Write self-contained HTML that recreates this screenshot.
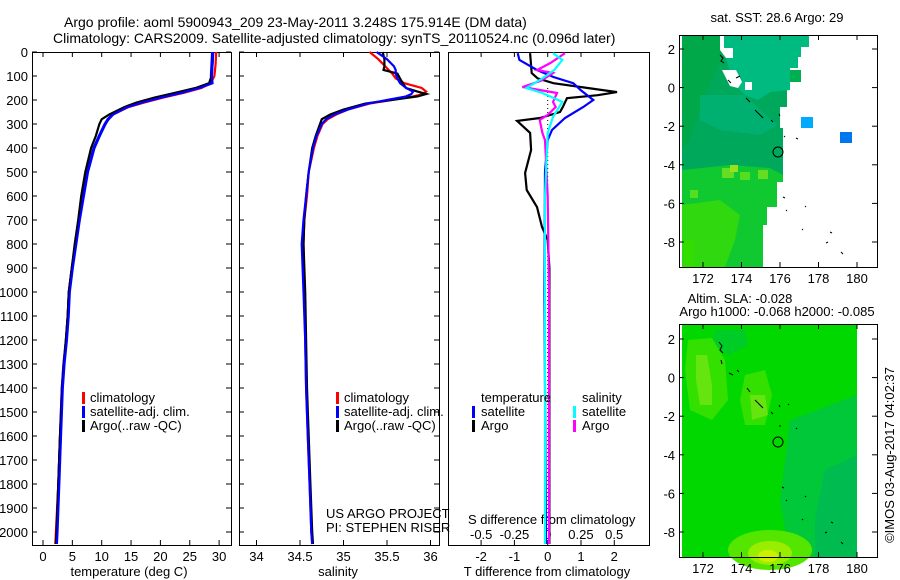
<!DOCTYPE html>
<html><head><meta charset="utf-8"><style>
html,body{margin:0;padding:0;background:#fff;}
svg{display:block;font-family:"Liberation Sans",sans-serif;}
</style></head><body>
<svg id="fig" width="900" height="580" viewBox="0 0 900 580">
<g font-size="14" fill="#000">
<text x="64" y="27">Argo profile: aoml 5900943_209 23-May-2011 3.248S 175.914E (DM data)</text>
<text x="53" y="43">Climatology: CARS2009. Satellite-adjusted climatology: synTS_20110524.nc (0.096d later)</text>
</g>
<g id="p1"></g>
<g id="p2"></g>
<g id="p3"></g>

<!-- legends -->
<g font-size="13">
<rect x="82" y="392" width="3" height="12" fill="#f00"/><text x="90" y="402">climatology</text>
<rect x="82" y="406" width="3" height="12" fill="#00f"/><text x="90" y="416">satellite-adj. clim.</text>
<rect x="82" y="420" width="3" height="12" fill="#000"/><text x="90" y="430">Argo(..raw -QC)</text>
</g>
<g font-size="13">
<rect x="336" y="392" width="3" height="12" fill="#f00"/><text x="344" y="402">climatology</text>
<rect x="336" y="406" width="3" height="12" fill="#00f"/><text x="344" y="416">satellite-adj. clim.</text>
<rect x="336" y="420" width="3" height="12" fill="#000"/><text x="344" y="430">Argo(..raw -QC)</text>
</g>
<g font-size="13">
<text x="481" y="402">temperature</text><text x="582" y="402">salinity</text>
<rect x="472" y="406" width="3" height="12" fill="#00f"/><text x="481" y="416">satellite</text>
<rect x="472" y="420" width="3" height="12" fill="#000"/><text x="481" y="430">Argo</text>
<rect x="573" y="406" width="3" height="12" fill="#0ff"/><text x="582" y="416">satellite</text>
<rect x="573" y="420" width="3" height="12" fill="#f0f"/><text x="582" y="430">Argo</text>
</g>
<g font-size="13">
<text x="326" y="518">US ARGO PROJECT</text><text x="326" y="532">PI: STEPHEN RISER</text>
</g>

<!-- Map 1 SST -->
<g>
<text x="777" y="22" font-size="13" text-anchor="middle">sat. SST: 28.6 Argo: 29</text>
<polygon fill="#00a85c" points="682,35 809,35 809,47 801,47 801,57 798,57 798,68 790,68 790,90 787,90 787,107 780,107 780,128 783,128 783,182 777,182 777,207 767,207 767,225 763,225 763,267 682,267"/>
<polygon fill="#00a84a" points="682,35 722,35 722,60 712,80 700,110 690,140 682,150"/>
<polygon fill="#00bb80" points="724,35 809,35 809,47 801,47 801,57 798,57 798,68 790,68 790,90 770,92 758,100 745,95 735,85 728,65 724,50"/>
<polygon fill="#00b070" points="700,95 745,95 760,110 778,125 760,135 720,130 700,120"/>
<polygon fill="#10c830" points="682,170 730,165 770,168 783,175 783,182 777,182 777,207 767,207 767,225 763,225 763,267 682,267"/>
<polygon fill="#30d810" points="682,205 720,200 740,215 735,240 725,267 682,267"/>
<rect x="722" y="168" width="12" height="10" fill="#66dd22"/><rect x="730" y="165" width="8" height="7" fill="#99e020"/>
<rect x="740" y="172" width="10" height="8" fill="#55dd22"/><rect x="758" y="170" width="10" height="9" fill="#66dd22"/>
<rect x="690" y="190" width="8" height="8" fill="#55dd22"/><rect x="684" y="240" width="10" height="27" fill="#33dd00"/>
<polygon fill="#fff" points="720,35 724,35 724,48 733,48 733,58 726,58 720,50"/>
<polygon fill="#fff" points="722,70 736,70 742,82 738,88 730,86"/>
<polygon fill="#fff" points="745,82 752,82 752,90 745,90"/>
<rect x="790" y="70" width="11" height="12" fill="#00b050"/>
<rect x="801" y="117" width="12" height="11" fill="#00aaff"/>
<rect x="840" y="132" width="12" height="11" fill="#0077ee"/>
<g stroke="#000" stroke-width="1" fill="none">
<path d="M720,55 l3,3 l-2,3 l3,2"/><path d="M728,80 l3,3"/><path d="M736,78 l4,-2"/><path d="M746,98 l4,4"/><path d="M755,110 l8,8"/><path d="M771,120 l2,2"/><path d="M779,114 l1,2"/><path d="M784,136 l1,1"/><path d="M796,138 l2,1"/><path d="M783,197 l2,1"/><path d="M786,210 l1,1"/><path d="M805,206 l1,1"/><path d="M802,229 l1,1"/><path d="M830,232 l2,1"/><path d="M826,243 l2,-1"/><path d="M841,252 l2,2"/>
</g>
<circle cx="778" cy="152" r="5" fill="none" stroke="#000" stroke-width="1"/>
<rect x="679.5" y="35.5" width="198" height="232" fill="none" stroke="#000" stroke-width="1"/>
<g id="m1ticks"></g>
</g>

<!-- Map 2 SLA -->
<g>
<text x="740" y="303" font-size="13" text-anchor="middle">Altim. SLA: -0.028</text>
<text x="777" y="316" font-size="13" text-anchor="middle">Argo h1000: -0.068 h2000: -0.085</text>
<rect x="682" y="324" width="175" height="233" fill="#00d800"/>
<polygon fill="#00c838" points="790,420 857,395 857,557 790,557 780,500"/>
<polygon fill="#00bb50" points="825,470 857,455 857,557 815,557 815,520"/>
<polygon fill="#00cc28" points="715,330 745,330 748,345 730,355 712,345"/>
<polygon fill="#33e000" points="688,340 712,338 725,360 728,400 712,420 690,410 685,370"/>
<polygon fill="#66e410" points="696,355 707,355 712,385 712,405 700,405 696,380"/>
<polygon fill="#33e000" points="745,375 765,370 772,395 765,425 745,425 740,400"/>
<polygon fill="#66e410" points="750,395 765,395 768,415 752,420"/>
<ellipse cx="770" cy="550" rx="42" ry="20" fill="#55e600"/>
<ellipse cx="770" cy="553" rx="22" ry="12" fill="#99ee00"/>
<ellipse cx="768" cy="556" rx="10" ry="6" fill="#ccf000"/>
<g stroke="#000" stroke-width="1" fill="none">
<path d="M719,342 l3,4 l-2,4 l3,3"/><path d="M721,360 l1,4"/><path d="M729,373 l4,2"/><path d="M737,370 l2,2"/><path d="M747,388 l3,4"/><path d="M755,400 l8,8"/><path d="M771,412 l2,2"/><path d="M779,405 l1,2"/><path d="M788,404 l1,1"/><path d="M779,426 l2,0"/><path d="M796,428 l1,1"/><path d="M782,487 l2,1"/><path d="M786,500 l1,1"/><path d="M805,496 l1,1"/><path d="M802,519 l1,1"/><path d="M831,522 l2,1"/><path d="M825,533 l2,-1"/><path d="M841,542 l2,2"/>
</g>
<circle cx="778" cy="442" r="5" fill="none" stroke="#000" stroke-width="1"/>
<rect x="679.5" y="324.5" width="198" height="233" fill="none" stroke="#000" stroke-width="1"/>
<g id="m2ticks"></g>
</g>
<text transform="translate(894,455) rotate(-90)" font-size="13" text-anchor="middle">©IMOS 03-Aug-2017 04:02:37</text>
</svg>
<script>
// ---- data ----
const depthTicks = [0,100,200,300,400,500,600,700,800,900,1000,1100,1200,1300,1400,1500,1600,1700,1800,1900,2000];
const tempTicks = [0,5,10,15,20,25,30];
const salTicks = [34,34.5,35,35.5,36];
const tdiffTicks = [-2,-1,0,1,2];
const sdiffTicks = [-0.5,-0.25,0,0.25,0.5];
const sdiffLabels = ["-0.5","-0.25","0","0.25","0.5"];

const tDepth = [0,50,100,130,150,170,190,210,230,260,280,300,350,400,500,600,700,800,900,1000,1100,1200,1300,1400,1600,1800,2000,2050];
const tClim  = [29.5,29.4,29.2,28.6,27.0,24.0,20.5,17.3,14.5,12.0,11.2,10.6,9.6,8.7,7.6,6.7,6.1,5.5,4.9,4.4,4.2,3.9,3.5,3.2,2.9,2.6,2.2,2.1];
const tSat   = [28.8,28.7,28.6,28.7,26.5,23.5,20.0,16.8,14.2,11.8,11.0,10.5,9.5,8.6,7.5,6.8,6.1,5.5,4.9,4.4,4.2,3.9,3.5,3.2,2.9,2.6,2.3,2.2];
const tArgo  = [29.0,28.9,28.7,28.3,26.0,22.5,19.0,16.0,13.8,11.3,10.0,9.6,9.0,8.2,7.2,6.5,6.0,5.4,4.9,4.4,4.2,3.9,3.6,3.3,2.9,2.6,2.3,2.2];

const sDepth = [0,30,60,75,90,110,130,150,165,175,185,200,215,240,260,280,300,350,400,500,600,700,800,1000,1200,1400,1600,1800,2000,2050];
const sClim = [35.3,35.4,35.48,35.52,35.56,35.6,35.7,35.9,35.95,35.92,35.8,35.55,35.3,35.05,34.92,34.82,34.76,34.7,34.66,34.6,34.58,34.55,34.54,34.55,34.56,34.57,34.59,34.61,34.63,34.64];
const sSat  = [35.38,35.5,35.58,35.6,35.6,35.62,35.65,35.72,35.8,35.78,35.72,35.5,35.28,35.05,34.9,34.8,34.75,34.69,34.65,34.6,34.57,34.54,34.52,34.54,34.56,34.57,34.59,34.61,34.63,34.64];
const sArgo = [35.45,35.47,35.47,35.46,35.62,35.65,35.68,35.72,35.85,35.95,35.85,35.55,35.25,35.0,34.85,34.75,34.73,34.68,34.64,34.6,34.57,34.55,34.54,34.56,34.57,34.58,34.6,34.62,34.64,34.65];

const dtArgoDepth = [5,88,110,130,150,167,180,192,230,250,275,287,337,408,504,575,646,729,783,900,1200,1600,2050];
const dtArgo = [-0.53,-0.48,-0.3,0.17,1.2,2.08,1.5,0.58,0.45,0.37,-0.23,-0.92,-0.53,-0.5,-0.68,-0.63,-0.32,-0.17,0,0.05,0.05,0.05,0.05];
const dtSatDepth = [5,33,75,104,130,160,200,229,275,325,367,500,1000,2050];
const dtSat = [-0.9,-0.85,-0.32,0.17,0.77,1.0,1.37,1.07,0.52,0.13,0,-0.08,-0.1,-0.05];
const dsArgoDepth = [5,46,75,88,120,146,171,208,229,262,283,337,367,600,1000,2050];
const dsArgo = [0.13,0.02,-0.08,0.04,-0.05,-0.19,0.07,0.04,0.06,0,-0.06,-0.04,-0.02,0,0.01,0.01];
const dsSatDepth = [5,33,75,117,150,171,208,271,337,600,1000,2050];
const dsSat = [0.04,0.11,0.05,-0.06,-0.16,-0.04,0.11,0.04,0,-0.02,-0.02,-0.02];

const latTicks = [2,0,-2,-4,-6,-8];
const lonTicks = [172,174,176,178,180];

// ---- scales ----
const NS = "http://www.w3.org/2000/svg";
const TOP = 52, BOT = 545;
const yD = d => TOP + d * 0.24;
const xT = v => 43 + v * 5.87;
const xS = v => 300 + (v - 34.5) * 87;
const xDT = v => 547.7 + v * 33.3;
const xDS = v => 547.7 + v * 133;

function mk(tag, attrs, parent) {
  const e = document.createElementNS(NS, tag);
  for (const k in attrs) e.setAttribute(k, attrs[k]);
  parent.appendChild(e);
  return e;
}
function frame(g, x0, x1) {
  mk('rect', {x: x0 + .5, y: TOP + .5, width: x1 - x0, height: BOT - TOP, fill: 'none', stroke: '#000', 'stroke-width': 1}, g);
}
function line(g, xs, ds, xf, color, name) {
  const pts = xs.map((v, i) => xf(v).toFixed(1) + ',' + yD(ds[i]).toFixed(1)).join(' ');
  const p = mk('polyline', {points: pts, fill: 'none', stroke: color, 'stroke-width': 2.2, 'stroke-linejoin': 'miter'}, g);
  
  
}
function yticks(g, x0, x1, labels) {
  depthTicks.forEach(d => {
    const y = yD(d);
    mk('line', {x1: x0, y1: y, x2: x0 + 5, y2: y, stroke: '#000'}, g);
    mk('line', {x1: x1 - 5, y1: y, x2: x1, y2: y, stroke: '#000'}, g);
    if (labels) {
      const t = mk('text', {x: 28, y: y + 5, 'font-size': 13, 'text-anchor': 'end'}, g);
      t.textContent = d;
      
      
    }
  });
}
function xticks(g, ticks, xf, labelFmt) {
  ticks.forEach(v => {
    const x = xf(v);
    mk('line', {x1: x, y1: BOT, x2: x, y2: BOT - 5, stroke: '#000'}, g);
    mk('line', {x1: x, y1: TOP, x2: x, y2: TOP + 5, stroke: '#000'}, g);
    const t = mk('text', {x: x, y: 561, 'font-size': 13, 'text-anchor': 'middle'}, g);
    t.textContent = labelFmt(v);
    
    
  });
}
function xlabel(g, x, txt) {
  const t = mk('text', {x: x, y: 576, 'font-size': 13, 'text-anchor': 'middle'}, g);
  t.textContent = txt;
  
  
}

// panel 1
const p1 = document.getElementById('p1');
frame(p1, 32, 231);
yticks(p1, 32, 231, true);
xticks(p1, tempTicks, xT, v => String(v));
xlabel(p1, 129, 'temperature (deg C)');
line(p1, tClim, tDepth, xT, '#f00', 'temp-climatology-line');
line(p1, tSat, tDepth, xT, '#00f', 'temp-satellite-line');
line(p1, tArgo, tDepth, xT, '#000', 'temp-argo-line');
line(p1, tSat, tDepth, v => xT(v) + 1, '#00f', 'temp-satellite-line-overlay');

// panel 2
const p2 = document.getElementById('p2');
frame(p2, 239, 439);
yticks(p2, 239, 439, false);
xticks(p2, salTicks, xS, v => String(v));
xlabel(p2, 338, 'salinity');
line(p2, sClim, sDepth, xS, '#f00', 'sal-climatology-line');
line(p2, sArgo, sDepth, xS, '#000', 'sal-argo-line');
line(p2, sSat, sDepth, xS, '#00f', 'sal-satellite-line');

// panel 3
const p3 = document.getElementById('p3');
frame(p3, 448, 649);
xticks(p3, tdiffTicks, xDT, v => String(v));
xlabel(p3, 547, 'T difference from climatology');
const st = mk('text', {x: 468, y: 524, 'font-size': 13}, p3);
st.textContent = 'S difference from climatology';


sdiffTicks.forEach((v, i) => {
  const t = mk('text', {x: xDS(v), y: 539, 'font-size': 13, 'text-anchor': 'middle'}, p3);
  t.textContent = sdiffLabels[i];
  
  
});
const zl = mk('line', {x1: xDT(0), y1: yD(150), x2: xDT(0), y2: yD(2000), stroke: '#000', 'stroke-dasharray': '1,3'}, p3);


line(p3, dtArgo, dtArgoDepth, xDT, '#000', 'tdiff-argo-line');
line(p3, dtSat, dtSatDepth, xDT, '#00f', 'tdiff-satellite-line');
line(p3, dsArgo, dsArgoDepth, xDS, '#f0f', 'sdiff-argo-line');
line(p3, dsSat, dsSatDepth, xDS, '#0ff', 'sdiff-satellite-line');

// map ticks
function mapTicks(id, top, bot, lat0y) {
  const g = document.getElementById(id);
  const yL = la => lat0y - la * 19.3;
  const xL = lo => 703 + (lo - 172) * 19.25;
  latTicks.forEach(la => {
    const y = yL(la);
    mk('line', {x1: 679, y1: y, x2: 684, y2: y, stroke: '#000'}, g);
    mk('line', {x1: 872, y1: y, x2: 877, y2: y, stroke: '#000'}, g);
    const t = mk('text', {x: 675, y: y + 5, 'font-size': 13, 'text-anchor': 'end'}, g);
    t.textContent = la;
    
    
  });
  lonTicks.forEach(lo => {
    const x = xL(lo);
    mk('line', {x1: x, y1: top, x2: x, y2: top + 5, stroke: '#000'}, g);
    mk('line', {x1: x, y1: bot, x2: x, y2: bot - 5, stroke: '#000'}, g);
    const t = mk('text', {x: x, y: bot + 16, 'font-size': 13, 'text-anchor': 'middle'}, g);
    t.textContent = lo;
    
    
  });
}
mapTicks('m1ticks', 35, 267, 87.6);
mapTicks('m2ticks', 324, 557, 377.6);
</script>
</body></html>
